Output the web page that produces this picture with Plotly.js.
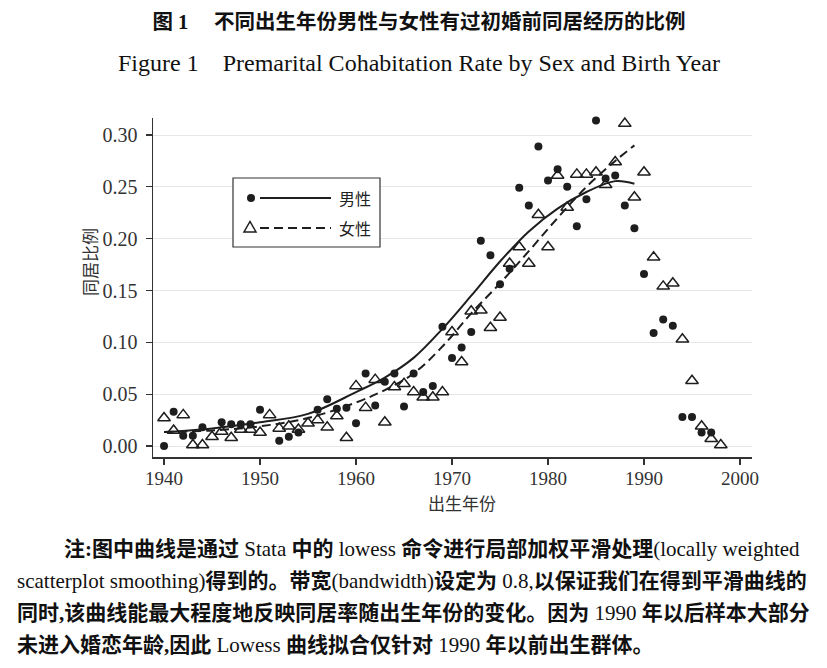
<!DOCTYPE html>
<html><head><meta charset="utf-8">
<script src="https://cdn.plot.ly/plotly-3.0.1.min.js"></script>
<style>html,body{margin:0;padding:0;background:#fff}#chart{width:827px;height:668px}</style>
</head><body><div id="chart"></div>
<script>
// ---- data ----
const birthYears = [1940,1941,1942,1943,1944,1945,1946,1947,1948,1949,
  1950,1951,1952,1953,1954,1955,1956,1957,1958,1959,
  1960,1961,1962,1963,1964,1965,1966,1967,1968,1969,
  1970,1971,1972,1973,1974,1975,1976,1977,1978,1979,
  1980,1981,1982,1983,1984,1985,1986,1987,1988,1989,
  1990,1991,1992,1993,1994,1995,1996,1997,1998];
const maleRate = [0.000,0.033,0.010,0.010,0.018,null,0.023,0.021,0.021,0.021,
  0.035,null,0.005,0.009,0.013,null,0.035,0.045,0.036,0.037,
  0.022,0.070,0.039,0.062,0.070,0.038,0.070,0.052,0.058,0.115,
  0.085,0.095,0.110,0.198,0.184,0.156,0.171,0.249,0.232,0.289,
  0.256,0.267,0.250,0.212,0.238,0.314,0.258,0.261,0.232,0.210,
  0.166,0.109,0.122,0.116,0.028,0.028,0.013,0.013,null];
const femaleRate = [0.027,0.015,0.030,0.001,0.001,0.009,0.014,0.008,0.016,0.016,
  0.013,0.030,0.017,0.019,0.016,0.022,0.025,0.018,0.029,0.008,
  0.058,0.037,0.064,0.023,0.057,0.060,0.052,0.047,0.047,0.052,
  0.110,0.081,0.130,0.131,0.114,0.124,0.176,0.192,0.176,0.223,
  0.192,0.261,0.230,0.262,0.262,0.264,0.252,0.274,0.311,0.240,
  0.264,0.182,0.154,0.157,0.103,0.063,0.019,0.007,0.001];
// lowess curves
const fitYears  = [1940,1945,1950,1955,1960,1963,1966,1969,1972,1975,1978,1981,1984,1987,1989];
const maleFit   = [0.0135,0.017,0.023,0.031,0.052,0.066,0.085,0.113,0.145,0.178,0.207,0.229,0.245,0.2555,0.253];
const femaleFit = [0.0135,0.015,0.019,0.027,0.042,0.054,0.070,0.096,0.128,0.157,0.188,0.220,0.250,0.275,0.290];
const xTicks = [1940,1950,1960,1970,1980,1990,2000];
const yTicks = [0,0.05,0.10,0.15,0.20,0.25,0.30];
const yTickText = ['0.00','0.05','0.10','0.15','0.20','0.25','0.30'];
const seriesNames = ['男性','女性'];

const INK = '#1e1e1e';
const SERIF = 'Liberation Serif, Noto Sans CJK SC, serif';
const CJK = 'Noto Sans CJK SC, sans-serif';

const traces = [
  {x: birthYears, y: maleRate, type: 'scatter', mode: 'markers', name: seriesNames[0], cliponaxis: false,
   marker: {symbol: 'circle', size: 8, color: INK}, showlegend: false},
  {x: birthYears, y: femaleRate, type: 'scatter', mode: 'markers', name: seriesNames[1], cliponaxis: false,
   marker: {symbol: 'triangle-up-open', size: 11, color: INK, line: {width: 1.5, color: INK}}, showlegend: false},
  {x: fitYears, y: maleFit, type: 'scatter', mode: 'lines', name: seriesNames[0] + ' lowess',
   line: {color: INK, width: 2, shape: 'spline', smoothing: 1}, showlegend: false},
  {x: fitYears, y: femaleFit, type: 'scatter', mode: 'lines', name: seriesNames[1] + ' lowess',
   line: {color: INK, width: 2, dash: '9px,5px', shape: 'spline', smoothing: 1}, showlegend: false}
];

// plot area in pixels: x 153..752, y 118..457
const L = 153, R = 752, T = 118, B = 457;
const px = v => (v - L) / (R - L);
const py = v => (B - v) / (B - T);

const noteFont = {family: SERIF, size: 21, color: '#111'};
const notes = [
  {x: 62, y: 549, t: '<b>注:图中曲线是通过</b> Stata <b>中的</b> lowess <b>命令进行局部加权平滑处理</b>(locally weighted'},
  {x: 15, y: 581, t: 'scatterplot smoothing)<b>得到的。带宽</b>(bandwidth)<b>设定为</b> 0.8,<b>以保证我们在得到平滑曲线的</b>'},
  {x: 15, y: 613, t: '<b>同时,该曲线能最大程度地反映同居率随出生年份的变化。因为</b> 1990 <b>年以后样本大部分</b>'},
  {x: 15, y: 645, t: '<b>未进入婚恋年龄,因此</b> Lowess <b>曲线拟合仅针对</b> 1990 <b>年以前出生群体。</b>'}
];

const annotations = [
  {xref: 'paper', yref: 'paper', x: px(419), y: py(63), xanchor: 'center', yanchor: 'middle', showarrow: false,
   text: 'Figure 1\u00A0\u00A0\u00A0\u00A0Premarital Cohabitation Rate by Sex and Birth Year',
   font: {family: SERIF, size: 24, color: '#111'}},
  {xref: 'paper', yref: 'paper', x: px(462), y: py(503), xanchor: 'center', yanchor: 'middle', showarrow: false,
   text: '出生年份', font: {family: CJK, size: 17, color: '#333'}},
  {xref: 'paper', yref: 'paper', x: px(89), y: py(262), xanchor: 'center', yanchor: 'middle', showarrow: false,
   textangle: -90, text: '同居比例', font: {family: CJK, size: 17, color: '#333'}},
  {xref: 'paper', yref: 'paper', x: px(337), y: py(198), xanchor: 'left', yanchor: 'middle', showarrow: false,
   text: seriesNames[0], font: {family: CJK, size: 16, color: '#222'}},
  {xref: 'paper', yref: 'paper', x: px(337), y: py(228), xanchor: 'left', yanchor: 'middle', showarrow: false,
   text: seriesNames[1], font: {family: CJK, size: 16, color: '#222'}}
].concat(notes.map(n => ({xref: 'paper', yref: 'paper', x: px(n.x), y: py(n.y), xanchor: 'left', yanchor: 'middle',
   showarrow: false, text: n.t, font: noteFont})));

const shapes = [
  {type: 'rect', xref: 'paper', yref: 'paper', x0: px(233), x1: px(380), y0: py(247), y1: py(178),
   line: {color: '#333', width: 1.2}, fillcolor: '#fff', layer: 'above'},
  {type: 'circle', xref: 'paper', yref: 'paper', xsizemode: 'pixel', ysizemode: 'pixel',
   xanchor: px(251), yanchor: py(198), x0: -4, x1: 4, y0: -4, y1: 4,
   fillcolor: INK, line: {color: INK, width: 0}, layer: 'above'},
  {type: 'line', xref: 'paper', yref: 'paper', x0: px(260), x1: px(331), y0: py(198), y1: py(198),
   line: {color: INK, width: 2}, layer: 'above'},
  {type: 'path', xref: 'paper', yref: 'paper', xsizemode: 'pixel', ysizemode: 'pixel',
   xanchor: px(250), yanchor: py(228), path: 'M -6 -4 L 6 -4 L 0 6.5 Z',
   line: {color: INK, width: 1.5}, fillcolor: 'rgba(0,0,0,0)', layer: 'above'},
  {type: 'line', xref: 'paper', yref: 'paper', x0: px(260), x1: px(331), y0: py(228), y1: py(228),
   line: {color: INK, width: 2, dash: '9px,5px'}, layer: 'above'}
];

const layout = {
  width: 827, height: 668,
  margin: {l: L, r: 827 - R, t: T, b: 668 - B, pad: 0},
  paper_bgcolor: '#fff', plot_bgcolor: '#fff',
  showlegend: false,
  title: {text: '<b>图 1\u3000 不同出生年份男性与女性有过初婚前同居经历的比例</b>',
    font: {family: SERIF, size: 20.5, color: '#111'},
    x: 419 / 827, xref: 'container', xanchor: 'center', y: 1 - 22 / 668, yref: 'container', yanchor: 'middle'},
  xaxis: {range: [1938.85, 2001.25], tickvals: xTicks, ticks: 'outside', ticklen: 6, tickwidth: 1.3,
    tickcolor: '#333', showline: true, linecolor: '#333', linewidth: 1.5, zeroline: false, showgrid: false,
    ticklabelstandoff: -2,
    tickfont: {family: SERIF, size: 19, color: '#333'}, fixedrange: true},
  yaxis: {range: [-0.0106, 0.3164], tickvals: yTicks, ticktext: yTickText, ticks: 'outside', ticklen: 6,
    tickwidth: 1.3, tickcolor: '#333', showline: true, linecolor: '#333', linewidth: 1.5, zeroline: false,
    showgrid: true, gridcolor: '#e6e6e6', gridwidth: 1, ticklabelstandoff: 4,
    tickfont: {family: SERIF, size: 20, color: '#333'}, fixedrange: true},
  annotations: annotations,
  shapes: shapes
};

Plotly.newPlot('chart', traces, layout, {displayModeBar: false, staticPlot: true});
</script>
</body></html>
